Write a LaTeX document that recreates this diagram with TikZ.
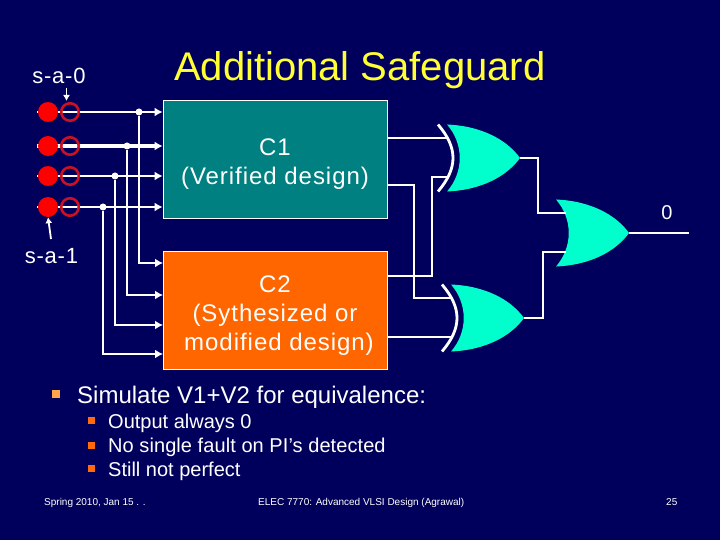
\documentclass[tikz,border=0pt]{standalone}
\usepackage{fontspec}
\setmainfont{Liberation Sans}
\usetikzlibrary{arrows.meta,positioning}

\definecolor{slidebg}{HTML}{00005C}
\definecolor{tealbox}{HTML}{008080}
\definecolor{orangebox}{HTML}{FF6600}
\definecolor{gatefill}{HTML}{00FFCC}
\definecolor{faultred}{HTML}{FF0000}
\definecolor{ringred}{HTML}{CC1122}
\definecolor{titleyellow}{HTML}{FFFF33}
\definecolor{bulletbig}{HTML}{FFA64D}
\definecolor{bulletsmall}{HTML}{FF6A10}

\newcommand{\fs}[1]{\fontsize{#1}{#1}\selectfont}

\tikzset{
  wire/.style={draw=white,line width=2.8pt},
  input/.style={wire,-{Latex[length=8pt,width=9pt]}},
  pointer/.style={draw=white,line width=1.8pt,-{Latex[length=6pt,width=7pt]}},
  block/.style={draw=white,line width=0.7pt,text=white,minimum width=224pt,minimum height=118pt,
    align=center,font=\fontsize{24}{29}\selectfont\addfontfeature{LetterSpace=4}},
  fault/.style={circle,fill=faultred,minimum size=20pt,inner sep=0pt},
  ring/.style={circle,draw=ringred,line width=2.6pt,minimum size=17.5pt,inner sep=0pt},
  junction/.style={circle,fill=white,minimum size=7pt,inner sep=0pt},
  label/.style={text=white,inner sep=0pt,anchor=base},
  bullettext/.style={text=white,inner sep=0pt,anchor=base west},
  bigbullet/.style={fill=bulletbig,minimum size=8pt,inner sep=0pt},
  smallbullet/.style={fill=bulletsmall,minimum size=7pt,inner sep=0pt},
  orgate/.pic={
    \fill[gatefill] (0,-33.5) .. controls (35,-32) and (60,-18) .. (73,0)
      .. controls (60,18) and (35,32) .. (0,33.5)
      .. controls (17,14) and (17,-14) .. (0,-33.5);
    \coordinate (-a) at (10,-20);
    \coordinate (-b) at (10,19);
    \coordinate (-out) at (73,0);
  },
  xorgate/.pic={
    \fill[gatefill] (0,-33.5) .. controls (35,-32) and (60,-18) .. (73,0)
      .. controls (60,18) and (35,32) .. (0,33.5)
      .. controls (17,14) and (17,-14) .. (0,-33.5);
    \draw[wire] (-9,-33.5) .. controls (11,-10) and (11,10) .. (-9,33.5);
    \coordinate (-a) at (0,-20);
    \coordinate (-b) at (0,19);
    \coordinate (-out) at (73,0);
  },
}

\begin{document}
\begin{tikzpicture}[x=1pt,y=-1pt]

\fill[slidebg] (0,0) rectangle (720,540);
\useasboundingbox (0,0) rectangle (720,540);

\node[text=titleyellow,inner sep=0pt,anchor=base west,font=\fs{40}] (title) at (174,81) {Additional Safeguard};

\node[block,fill=tealbox] (c1) at (275,159) {\rule{0pt}{27pt}C1\\(Verified design)};
\node[block,fill=orangebox] (c2) at (275,310) {\rule{0pt}{27pt}C2\\(Sythesized or\\\hspace{8pt}modified design)};

% primary inputs
\coordinate (in1) at (37,112);
\coordinate (in2) at (37,146);
\coordinate (in3) at (37,176);
\coordinate (in4) at (37,207);

\draw[input] (in1) -- (c1.west |- in1);
\draw[input,line width=3.6pt] (in2) -- (c1.west |- in2);
\draw[input] (in3) -- (c1.west |- in3);
\draw[input] (in4) -- (c1.west |- in4);

\node[fault] (pi1) at (48,112) {};
\node[fault] (pi2) at (48,146) {};
\node[fault] (pi3) at (48,176) {};
\node[fault] (pi4) at (48,207) {};

\node[ring] (r1) at (70,112) {};
\node[ring] (r2) at (70,146) {};
\node[ring] (r3) at (70,176) {};
\node[ring] (r4) at (70,207) {};

\node[junction] (j1) at (139,112) {};
\node[junction] (j2) at (127,146) {};
\node[junction] (j3) at (115,176) {};
\node[junction] (j4) at (103,207) {};

\coordinate (t1) at (163,263);
\coordinate (t2) at (163,295);
\coordinate (t3) at (163,325);
\coordinate (t4) at (163,354);

\draw[input] (j1) |- (t1);
\draw[input] (j2) |- (t2);
\draw[input] (j3) |- (t3);
\draw[input] (j4) |- (t4);

% fault labels
\node[label,font=\fs{22}\addfontfeature{LetterSpace=3.5}] (sa0) at (59,84) {s-a-0};
\node[label,font=\fs{22}\addfontfeature{LetterSpace=3.5}] (sa1) at (51.5,263) {s-a-1};
\coordinate (p0) at (66.5,88);
\coordinate (p0e) at (66.5,101);
\coordinate (p1) at (51,239);
\draw[pointer] (p0) -- (p0e);
\draw[pointer] (p1) -- (pi4.south);

% gates
\pic (g1) at (447,158) {xorgate};
\pic (g2) at (451,318) {xorgate};
\pic (g3) at (556,233) {orgate};

\coordinate (c1b) at (387,185);
\coordinate (c2a) at (387,276);

\draw[wire] (c1.east |- g1-a) -- (g1-a);
\draw[wire] (c1b) -- ++(27,0) |- (g2-a);
\draw[wire] (c2a) -- ++(45,0) |- (g1-b);
\draw[wire] (c2.east |- g2-b) -- (g2-b);
\draw[wire] (g1-out) -- ++(18,0) |- (g3-a);
\draw[wire] (g2-out) -- ++(19,0) |- (g3-b);
\coordinate (out) at (689,233);
\draw[wire] (g3-out) -- (out);

\node[label,font=\fs{20}] (zero) at (667,220) {0};

% text
\node[bigbullet] (b0) at (56,393.5) {};
\node[smallbullet] (b1) at (91.5,420.5) {};
\node[smallbullet] (b2) at (91.5,445) {};
\node[smallbullet] (b3) at (91.5,468.5) {};

\node[bullettext,font=\fs{24}] (sim) at (77,403) {Simulate V1+V2 for equivalence:};
\node[bullettext,font=\fs{20}] (s1) at (108,428.5) {Output always 0};
\node[bullettext,font=\fs{20}\addfontfeature{LetterSpace=0.4}] (s2) at (108,452.5) {No single fault on PI’s detected};
\node[bullettext,font=\fs{20}] (s3) at (108,476.5) {Still not perfect};

\node[bullettext,font=\fs{10}] (date) at (44,505) {Spring 2010, Jan 15 . .};
\node[bullettext,font=\fs{10}] (course) at (258,505) {ELEC 7770: Advanced VLSI Design (Agrawal)};
\node[bullettext,font=\fs{10}] (page) at (666,505) {25};

\end{tikzpicture}
\end{document}
